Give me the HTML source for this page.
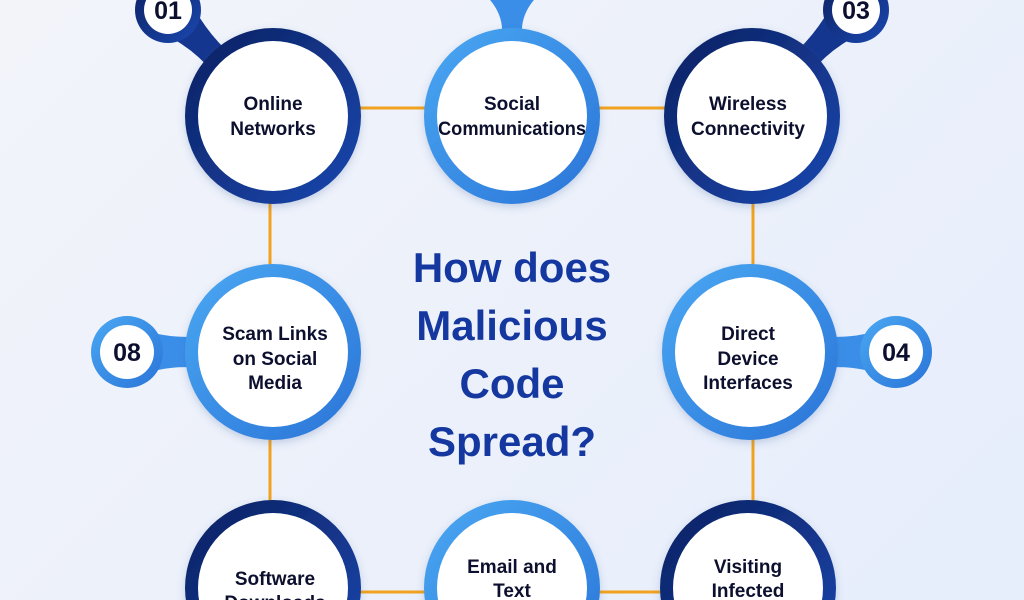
<!DOCTYPE html>
<html><head><meta charset="utf-8"><style>
html,body{margin:0;padding:0;width:1024px;height:600px;overflow:hidden;}
body{background:linear-gradient(135deg,#f2f4fa,#e6edfb);font-family:"Liberation Sans",sans-serif;}
svg{display:block;}
</style></head><body>
<svg width="1024" height="600" viewBox="0 0 1024 600" xmlns="http://www.w3.org/2000/svg">
<defs>
<linearGradient id="dk" x1="0" y1="0" x2="1" y2="1"><stop offset="0" stop-color="#0c2060"/><stop offset="1" stop-color="#1a48b0"/></linearGradient>
<linearGradient id="lt" x1="0" y1="0" x2="1" y2="1"><stop offset="0" stop-color="#4aa8f2"/><stop offset="1" stop-color="#2a74d8"/></linearGradient>
<filter id="sh" x="-20%" y="-20%" width="140%" height="140%"><feDropShadow dx="0" dy="3" stdDeviation="4" flood-color="#4060a0" flood-opacity="0.25"/></filter>
</defs>
<g stroke="#f2a21e" stroke-width="3" fill="none">
<line x1="273" y1="108" x2="753" y2="108"/>
<line x1="273" y1="592" x2="753" y2="592"/>
<line x1="270" y1="116" x2="270" y2="588"/>
<line x1="753" y1="116" x2="753" y2="588"/>
</g>
<!-- tails -->
<path d="M150,28 Q195,45 221,83 L241,63 Q205,35 186,-8Z" fill="#15368f"/>
<path d="M874,28 Q829,45 803,83 L783,63 Q819,35 838,-8Z" fill="#15368f"/>
<path d="M130,325 Q165,340 200,336 L200,368 Q165,364 130,379Z" fill="#3a8ee8"/>
<path d="M893,325 Q858,340 823,336 L823,368 Q858,364 893,379Z" fill="#3a8ee8"/>
<path d="M480,-10 L544,-10 Q520,10 522,35 L502,35 Q504,10 480,-10Z" fill="#3a8ee8"/>
<!-- badges -->
<circle cx="168" cy="10" r="33" fill="url(#dk)"/><circle cx="168" cy="10" r="24" fill="#fff"/>
<circle cx="856" cy="10" r="33" fill="url(#dk)"/><circle cx="856" cy="10" r="24" fill="#fff"/>
<circle cx="127" cy="352" r="36" fill="url(#lt)"/><circle cx="127" cy="352" r="27" fill="#fff"/>
<circle cx="896" cy="352" r="36" fill="url(#lt)"/><circle cx="896" cy="352" r="27" fill="#fff"/>
<g font-weight="bold" font-size="25" fill="#0c0f2e" text-anchor="middle">
<text x="168" y="19">01</text><text x="856" y="19">03</text>
<text x="127" y="361">08</text><text x="896" y="361">04</text>
</g>
<!-- circles -->
<g filter="url(#sh)">
<circle cx="273" cy="116" r="88" fill="url(#dk)"/><circle cx="273" cy="116" r="75" fill="#fff"/>
<circle cx="512" cy="116" r="88" fill="url(#lt)"/><circle cx="512" cy="116" r="75" fill="#fff"/>
<circle cx="752" cy="116" r="88" fill="url(#dk)"/><circle cx="752" cy="116" r="75" fill="#fff"/>
<circle cx="273" cy="352" r="88" fill="url(#lt)"/><circle cx="273" cy="352" r="75" fill="#fff"/>
<circle cx="750" cy="352" r="88" fill="url(#lt)"/><circle cx="750" cy="352" r="75" fill="#fff"/>
<circle cx="273" cy="588" r="88" fill="url(#dk)"/><circle cx="273" cy="588" r="75" fill="#fff"/>
<circle cx="512" cy="588" r="88" fill="url(#lt)"/><circle cx="512" cy="588" r="75" fill="#fff"/>
<circle cx="748" cy="588" r="88" fill="url(#dk)"/><circle cx="748" cy="588" r="75" fill="#fff"/>
</g>
<g font-weight="bold" font-size="19" fill="#0c0f2e" text-anchor="middle">
<text x="273" y="110">Online</text><text x="273" y="135">Networks</text>
<text x="512" y="110">Social</text><text x="512" y="135" textLength="148" lengthAdjust="spacingAndGlyphs">Communications</text>
<text x="748" y="110">Wireless</text><text x="748" y="135">Connectivity</text>
<text x="275" y="340">Scam Links</text><text x="275" y="365">on Social</text><text x="275" y="389">Media</text>
<text x="748" y="340">Direct</text><text x="748" y="365">Device</text><text x="748" y="389">Interfaces</text>
<text x="275" y="585">Software</text><text x="275" y="609">Downloads</text>
<text x="512" y="573">Email and</text><text x="512" y="597">Text</text>
<text x="748" y="573">Visiting</text><text x="748" y="597">Infected</text>
</g>
<g font-weight="bold" font-size="42" fill="#1538a0" text-anchor="middle">
<text x="512" y="282">How does</text>
<text x="512" y="340">Malicious</text>
<text x="512" y="398">Code</text>
<text x="512" y="456">Spread?</text>
</g>
</svg>
</body></html>
